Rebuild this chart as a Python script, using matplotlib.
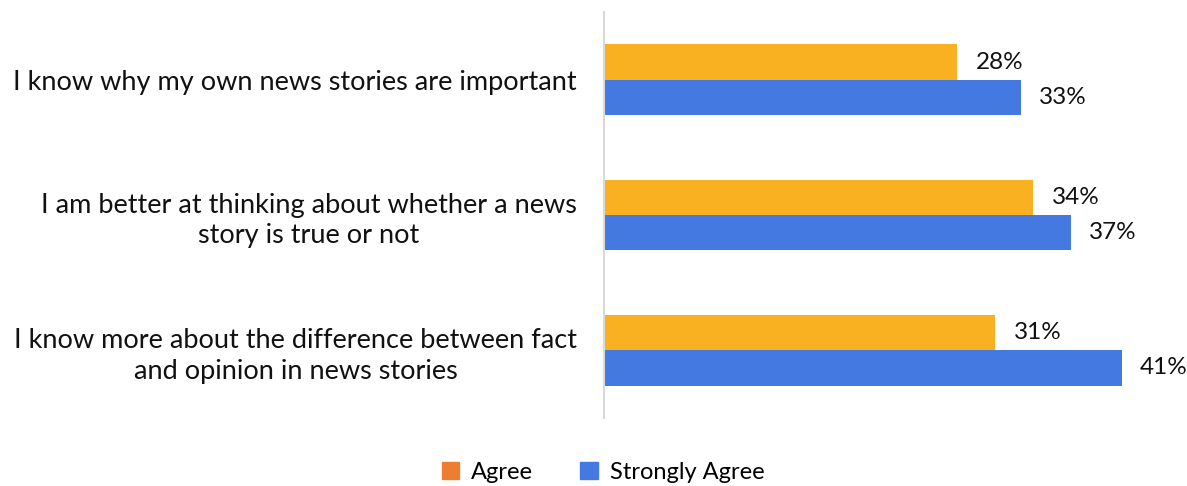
import matplotlib.pyplot as plt
from matplotlib.patches import Patch
import numpy as np

categories = [
    "I know why my own news stories are important",
    "I am better at thinking about whether a news\nstory is true or not",
    "I know more about the difference between fact\nand opinion in news stories",
]
agree = [28, 34, 31]
strongly_agree = [33, 37, 41]
series_names = ["Agree", "Strongly Agree"]

bar_color = "#F9B121"
legend_agree_color = "#ED7D31"
blue = "#4379E0"

plt.rcParams['font.family'] = ['Lato', 'DejaVu Sans']

fig = plt.figure(figsize=(11.87, 4.86), dpi=100)
# axes placed in pixels: left 604, top 12, bottom 418
ax = fig.add_axes([604 / 1187, 1 - 418 / 486, 568 / 1187, 406 / 486])

y = np.arange(len(categories))
h = 0.26
ax.barh(y - h / 2, agree, height=h, color=bar_color)
ax.barh(y + h / 2, strongly_agree, height=h, color=blue)

for yi, a, s in zip(y, agree, strongly_agree):
    ax.text(a + 1.45, yi - h / 2, f"{a}%", va='center', ha='left', fontsize=17.5, color='#111111')
    ax.text(s + 1.45, yi + h / 2, f"{s}%", va='center', ha='left', fontsize=17.5, color='#111111')

ax.set_xlim(0, 45)
ax.set_ylim(2.5, -0.5)
ax.set_xticks([])
ax.set_yticks(y)
ax.set_yticklabels(categories, fontsize=19.5, color='#111111', ha='right', linespacing=1.3,
                   multialignment='center')
ax.tick_params(axis='y', length=0, pad=19.5)

for name, spine in ax.spines.items():
    spine.set_visible(name == 'left')
ax.spines['left'].set_color('#D9D9D9')
ax.spines['left'].set_linewidth(1.5)

handles = [Patch(color=legend_agree_color), Patch(color=blue)]
fig.legend(handles, series_names, loc='center', bbox_to_anchor=(603 / 1187, 1 - 472 / 486),
           ncol=2, frameon=False, fontsize=17, handlelength=0.75, handleheight=0.75,
           handletextpad=0.5, columnspacing=2.0)

fig.savefig("out.png", dpi=100, facecolor='white')
